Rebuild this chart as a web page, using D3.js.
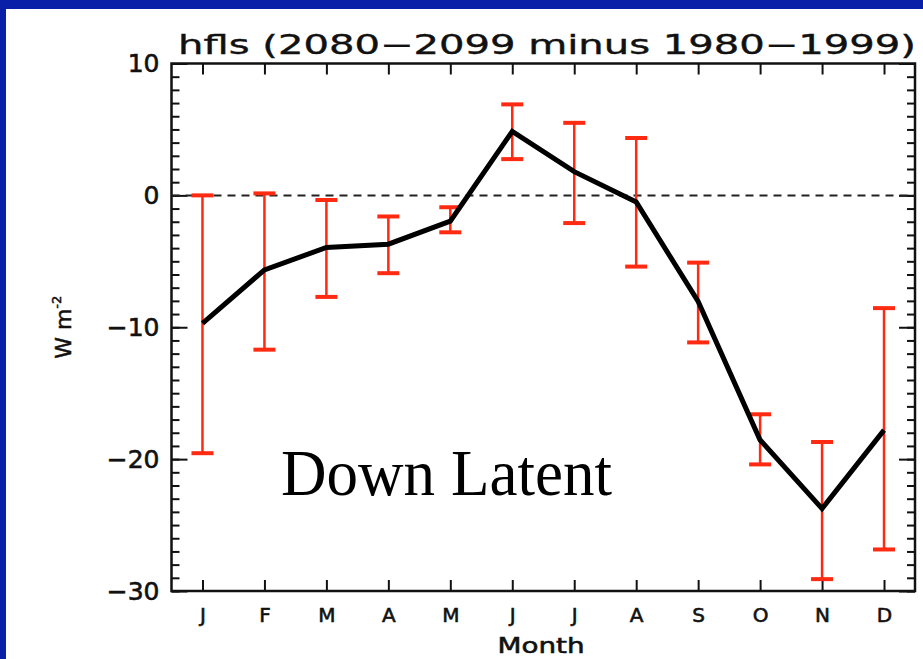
<!DOCTYPE html>
<html>
<head>
<meta charset="utf-8">
<script src="https://cdn.jsdelivr.net/npm/d3@7/dist/d3.min.js"></script>
<style>
  html, body { margin: 0; padding: 0; background: #ffffff; }
  svg { display: block; }
</style>
</head>
<body>
<script>
// Monthly change in surface latent heat flux, 2080-2099 minus 1980-1999
const months = ["J", "F", "M", "A", "M", "J", "J", "A", "S", "O", "N", "D"];
const meanChange = [-9.7, -5.65, -3.95, -3.7, -1.95, 4.85, 1.8, -0.5, -8.05, -18.55, -23.75, -17.8];
const rangeHigh = [0.0, 0.15, -0.35, -1.6, -0.9, 6.9, 5.5, 4.35, -5.1, -16.6, -18.7, -8.55];
const rangeLow = [-19.55, -11.7, -7.7, -5.9, -2.8, 2.75, -2.1, -5.4, -11.15, -20.4, -29.1, -26.85];
const yMajorTicks = [10, 0, -10, -20, -30];
const yMinorTicks = d3.range(-30, 11, 1);

const W = 923, H = 659;
const plot = { left: 171.5, right: 915, top: 63.5, bottom: 591 };
const red = "#ff2a12";

const svg = d3.select("body").append("svg")
  .attr("width", W).attr("height", H);

svg.append("rect").attr("width", W).attr("height", H).attr("fill", "#ffffff");
// slide border
svg.append("rect").attr("x", 0).attr("y", 0).attr("width", W).attr("height", 9).attr("fill", "#0a1fa8");
svg.append("rect").attr("x", 0).attr("y", 0).attr("width", 6).attr("height", H).attr("fill", "#0a1fa8");

const x = d3.scaleLinear().domain([0.5, 12.5]).range([plot.left, plot.right]);
const y = d3.scaleLinear().domain([-30, 10]).range([plot.bottom, plot.top]);
const monthIdx = d3.range(1, 13);

const axisFont = "'DejaVu Sans', 'Liberation Sans', sans-serif";

// bottom axis: month ticks pointing inward
const bottomAxis = d3.axisBottom(x).tickValues(monthIdx)
  .tickFormat(d => months[d - 1]).tickSizeInner(-11).tickSizeOuter(0).tickPadding(17);
const gB = svg.append("g").attr("transform", `translate(0,${plot.bottom})`).call(bottomAxis);
gB.select(".domain").remove();
gB.selectAll("line").attr("stroke", "#111").attr("stroke-width", 2);
gB.selectAll("text").attr("font-family", axisFont).attr("font-size", 20)
  .attr("fill", "#111").attr("stroke", "#111").attr("stroke-width", 0.6);

// top axis ticks
const topAxis = d3.axisTop(x).tickValues(monthIdx).tickFormat("").tickSizeInner(-11).tickSizeOuter(0);
const gT = svg.append("g").attr("transform", `translate(0,${plot.top})`).call(topAxis);
gT.select(".domain").remove();
gT.selectAll("line").attr("stroke", "#111").attr("stroke-width", 2);

// left axis: minor and major ticks
const leftMinor = d3.axisLeft(y).tickValues(yMinorTicks).tickFormat("").tickSizeInner(-8).tickSizeOuter(0);
const gLm = svg.append("g").attr("transform", `translate(${plot.left},0)`).call(leftMinor);
gLm.select(".domain").remove();
gLm.selectAll("line").attr("stroke", "#111").attr("stroke-width", 2);

const leftMajor = d3.axisLeft(y).tickValues(yMajorTicks).tickFormat(d => d < 0 ? "\u2212" + Math.abs(d) : d)
  .tickSizeInner(-16).tickSizeOuter(0).tickPadding(12);
const gL = svg.append("g").attr("transform", `translate(${plot.left},0)`).call(leftMajor);
gL.select(".domain").remove();
gL.selectAll("line").attr("stroke", "#111").attr("stroke-width", 2);
gL.selectAll("text").attr("font-family", axisFont).attr("font-size", 25)
  .attr("fill", "#111").attr("stroke", "#111").attr("stroke-width", 0.6);

// right axis ticks
const rightMinor = d3.axisRight(y).tickValues(yMinorTicks).tickFormat("").tickSizeInner(-8).tickSizeOuter(0);
const gRm = svg.append("g").attr("transform", `translate(${plot.right},0)`).call(rightMinor);
gRm.select(".domain").remove();
gRm.selectAll("line").attr("stroke", "#111").attr("stroke-width", 2);
const rightMajor = d3.axisRight(y).tickValues(yMajorTicks).tickFormat("").tickSizeInner(-16).tickSizeOuter(0);
const gR = svg.append("g").attr("transform", `translate(${plot.right},0)`).call(rightMajor);
gR.select(".domain").remove();
gR.selectAll("line").attr("stroke", "#111").attr("stroke-width", 2);

// plot frame
svg.append("rect")
  .attr("x", plot.left).attr("y", plot.top)
  .attr("width", plot.right - plot.left).attr("height", plot.bottom - plot.top)
  .attr("fill", "none").attr("stroke", "#111").attr("stroke-width", 2.5);

// zero reference line
svg.append("line")
  .attr("x1", plot.left).attr("x2", plot.right)
  .attr("y1", y(0)).attr("y2", y(0))
  .attr("stroke", "#222").attr("stroke-width", 2).attr("stroke-dasharray", "8,6");

// error bars
const bars = svg.append("g").attr("stroke", red).attr("fill", "none");
monthIdx.forEach((m, i) => {
  bars.append("line").attr("x1", x(m)).attr("x2", x(m))
    .attr("y1", y(rangeHigh[i])).attr("y2", y(rangeLow[i])).attr("stroke-width", 2.5);
  [rangeHigh[i], rangeLow[i]].forEach(v => {
    bars.append("line").attr("x1", x(m) - 11).attr("x2", x(m) + 11)
      .attr("y1", y(v)).attr("y2", y(v)).attr("stroke-width", 4);
  });
});

// mean change line
const line = d3.line().x((d, i) => x(monthIdx[i])).y(d => y(d));
svg.append("path").datum(meanChange)
  .attr("d", line).attr("fill", "none")
  .attr("stroke", "#000").attr("stroke-width", 5).attr("stroke-linejoin", "miter");

// title
svg.append("text")
  .attr("x", 178).attr("y", 54)
  .attr("font-family", axisFont).attr("font-size", 27).attr("fill", "#111")
  .attr("stroke", "#111").attr("stroke-width", 0.4)
  .attr("textLength", 738).attr("lengthAdjust", "spacingAndGlyphs")
  .text("hfls (2080\u22122099 minus 1980\u22121999)");

// x axis title
svg.append("text")
  .attr("x", 541).attr("y", 653)
  .attr("text-anchor", "middle")
  .attr("font-family", axisFont).attr("font-size", 22).attr("fill", "#111")
  .attr("stroke", "#111").attr("stroke-width", 0.6)
  .attr("textLength", 87).attr("lengthAdjust", "spacingAndGlyphs")
  .text("Month");

// y axis title
const yt = svg.append("text")
  .attr("transform", `translate(71,${y(-10)}) rotate(-90)`)
  .attr("text-anchor", "middle")
  .attr("font-family", axisFont).attr("font-size", 22).attr("fill", "#111")
  .attr("stroke", "#111").attr("stroke-width", 0.5);
yt.append("tspan").text("W m");
yt.append("tspan").attr("dy", -10).attr("font-size", 13).text("-2");

// panel label
svg.append("text")
  .attr("x", 281).attr("y", 495)
  .attr("font-family", "'Liberation Serif', 'Times New Roman', serif")
  .attr("font-size", 66).attr("fill", "#000")
  .attr("textLength", 331).attr("lengthAdjust", "spacingAndGlyphs")
  .text("Down Latent");
</script>
</body>
</html>
